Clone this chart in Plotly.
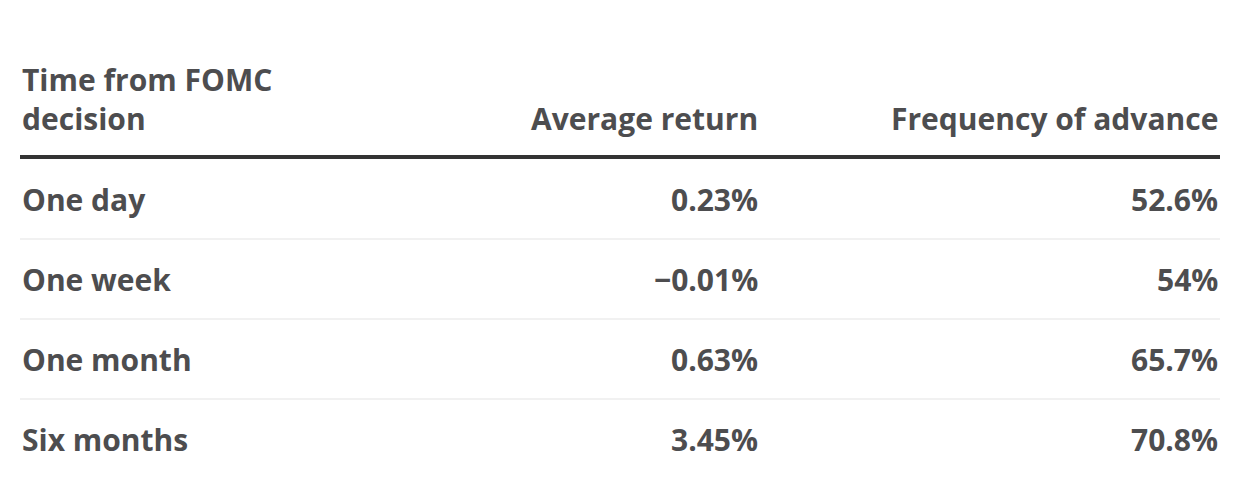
import plotly.graph_objects as go

headers = ["Time from FOMC<br>decision", "Average return", "Frequency of advance"]
periods = ["One day", "One week", "One month", "Six months"]
avg_return = ["0.23%", "\u22120.01%", "0.63%", "3.45%"]
freq_advance = ["52.6%", "54%", "65.7%", "70.8%"]

W, H = 1240, 498
off = 8  # page body margin offset
left, right = 20 - off, 1220 - off
col_right = [None, 760 - off, 1220 - off]
header_bottom = 157 - off
row_h = 80
text_color = "#4d4d4f"
font = dict(family="Open Sans", size=30, color=text_color)

fig = go.Figure()
ann = []
shapes = []

# header
ann.append(dict(x=left, y=header_bottom - 16, text="<b>" + headers[0] + "</b>",
                xanchor="left", yanchor="bottom", align="left", showarrow=False, font=font))
for i in (1, 2):
    ann.append(dict(x=col_right[i], y=header_bottom - 16, text="<b>" + headers[i] + "</b>",
                    xanchor="right", yanchor="bottom", showarrow=False, font=font))
shapes.append(dict(type="line", x0=left, x1=right, y0=header_bottom, y1=header_bottom,
                   line=dict(color="#333333", width=4)))

# rows
for r, (p, a, f) in enumerate(zip(periods, avg_return, freq_advance)):
    yc = header_bottom + row_h * r + row_h / 2 + 2
    ann.append(dict(x=left, y=yc, text="<b>" + p + "</b>", xanchor="left", yanchor="middle",
                    showarrow=False, font=font))
    ann.append(dict(x=col_right[1], y=yc, text="<b>" + a + "</b>", xanchor="right", yanchor="middle",
                    showarrow=False, font=font))
    ann.append(dict(x=col_right[2], y=yc, text="<b>" + f + "</b>", xanchor="right", yanchor="middle",
                    showarrow=False, font=font))
    if r < len(periods) - 1:
        yl = header_bottom + row_h * (r + 1) + 2
        shapes.append(dict(type="line", x0=left, x1=right, y0=yl, y1=yl,
                           line=dict(color="#e3e3e3", width=1)))

fig.update_layout(
    width=W, height=H, margin=dict(l=0, r=0, t=0, b=0),
    paper_bgcolor="white", plot_bgcolor="white",
    xaxis=dict(range=[0, W], visible=False, fixedrange=True),
    yaxis=dict(range=[H, 0], visible=False, fixedrange=True),
    annotations=ann, shapes=shapes, showlegend=False,
)

fig.write_html("out.html")
